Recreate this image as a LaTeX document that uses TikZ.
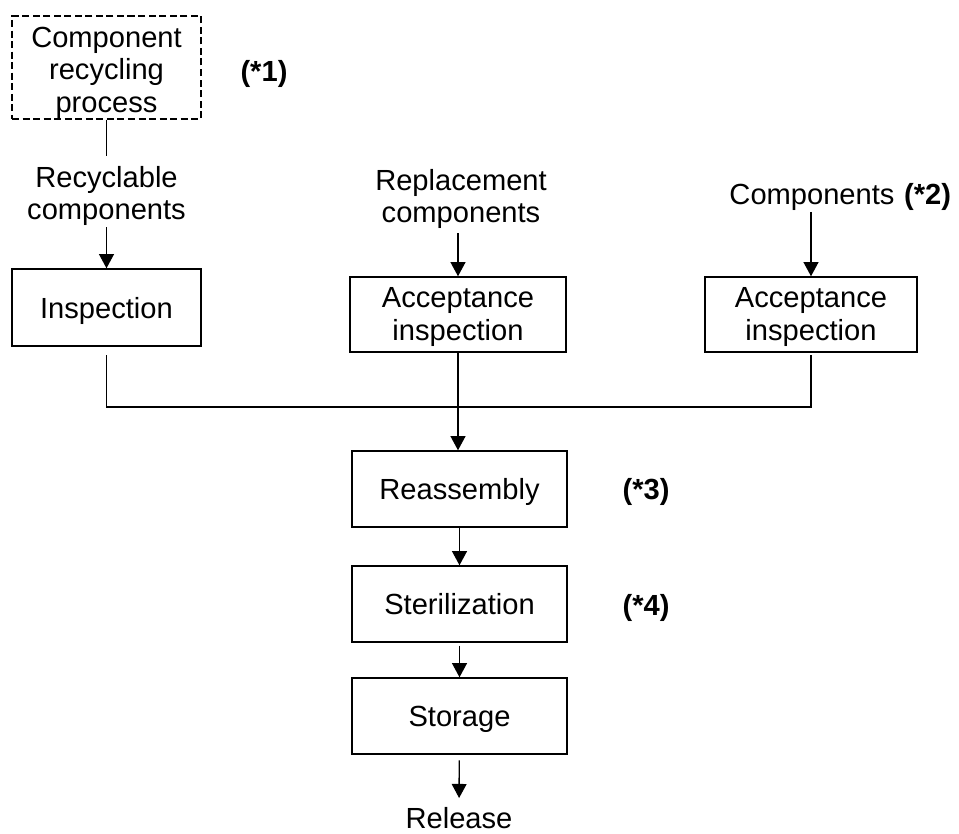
\documentclass[tikz,border=0pt]{standalone}
\usepackage{fontspec}
\setmainfont{Liberation Sans}
\usetikzlibrary{arrows.meta}

\begin{document}
\begin{tikzpicture}[x=0.025cm,y=-0.025cm,
  font=\fontsize{20.7}{23}\selectfont,
  box/.style={draw,line width=1pt,inner sep=0pt,align=center,minimum height=1.9cm,text height=19.5pt,text depth=4.4pt},
  box2/.style={box,text height=41pt},
  dbox/.style={box,dash pattern=on 5pt off 2.5pt,text height=67.7pt},
  lbl/.style={inner sep=0pt,align=center},
  note/.style={inner sep=0pt,font=\fontsize{20.7}{23}\selectfont\bfseries},
  arr/.style={line width=1pt,-{Triangle[length=10pt,width=10.5pt]}}]
\useasboundingbox (0,0) rectangle (959,834);

% top row
\node[dbox,minimum width=4.725cm,minimum height=2.575cm] (recyc) at (106.5,67.5) {Component\\recycling\\process};
\node[note] (note1) at (264,74) {(*1)};
\node[lbl] (lblrec) at (106.5,196) {Recyclable\\components};
\node[lbl] (lblrep) at (461,199) {Replacement\\components};
\node[lbl] (lblcomp) at (812,197) {Components};
\node[note] (note2) at (927.5,197) {(*2)};

\node[box,minimum width=4.725cm,minimum height=1.925cm] (insp) at (106.5,307.5) {Inspection};
\node[box2,minimum width=5.4cm,minimum height=1.875cm] (acc1) at (458,314.5) {Acceptance\\inspection};
\node[box2,minimum width=5.3cm,minimum height=1.875cm] (acc2) at (811,314.5) {Acceptance\\inspection};

\draw [line width=1pt,shorten >=7pt] (recyc) -- (lblrec);
\draw [arr,shorten <=1pt] (lblrec) -- (insp);
\draw [arr,shorten <=3pt] (lblrep.south -| acc1.north) -- (acc1.north);
\draw [arr,shorten <=1pt] (lblcomp.south -| acc2.north) -- (acc2.north);

% joining
\coordinate (bus) at (459,407);
\draw [line width=1pt] ([yshift=-6pt]insp.south) -- (insp.south |- bus) -- (acc2.south |- bus) -- ([yshift=-1.5pt]acc2.south);

% main line
\node[box,minimum width=5.375cm] (reasm) at (459.5,489) {Reassembly};
\node[note] (note3) at (646,492) {(*3)};
\node[box,minimum width=5.375cm] (steril) at (459.5,604) {Sterilization};
\node[note] (note4) at (646,608) {(*4)};
\node[box,minimum width=5.375cm] (stor) at (459.5,716) {Storage};
\node[lbl] (rel) at (459,818) {Release};

\draw [arr] (acc1.south) -- (acc1.south |- reasm.north);
\draw [arr] (reasm) -- (steril);
\draw [arr,shorten <=2pt] (steril) -- (stor);
\draw [arr,shorten <=4pt,shorten >=6.4pt] (stor) -- (rel);
\end{tikzpicture}
\end{document}
